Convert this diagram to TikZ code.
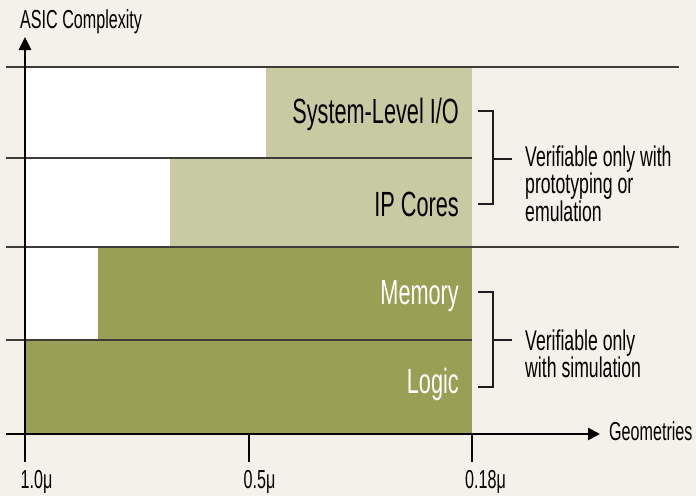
\documentclass[tikz,border=0pt]{standalone}
\usepackage{fontspec}
\newfontfamily\condfont[FakeStretch=0.62]{Liberation Sans}
\usetikzlibrary{arrows.meta}
\definecolor{paper}{HTML}{F4F0EA}
\definecolor{olivedark}{HTML}{999F54}
\definecolor{olivelight}{HTML}{C8CBA1}
\definecolor{gridgray}{HTML}{3E3C39}
\definecolor{inkdark}{HTML}{1E1E1E}
\tikzset{
  axisline/.style={line width=2.6pt, black},
  gridline/.style={line width=2pt, gridgray},
  bracketline/.style={line width=1.5pt, inkdark},
  barlabel/.style={anchor=base east, inner sep=0pt, font=\condfont\fontsize{35}{40}\selectfont},
  axislabel/.style={anchor=base west, inner sep=0pt, font=\condfont\fontsize{26}{30}\selectfont},
  note/.style={anchor=north west, inner sep=0pt, align=left, font=\condfont\fontsize{28.5}{26}\selectfont},
}
\begin{document}
\begin{tikzpicture}[x=1pt, y=-1pt]
  % canvas
  \fill[paper] (0,0) rectangle (696,496);
  \useasboundingbox (0,0) rectangle (696,496);

  % empty area and the four layers
  \fill[white] (25,67) rectangle (472,340);
  \fill[olivelight] (266,67) rectangle (472,158);
  \fill[olivelight] (170,158) rectangle (472,247);
  \fill[olivedark] (98,247) rectangle (472,340);
  \fill[olivedark] (25,340) rectangle (472,434);

  % separating lines
  \draw[gridline] (6,67) -- (679,67);
  \draw[gridline] (6,158) -- (472,158);
  \draw[gridline] (6,247) -- (679,247);
  \draw[gridline] (6,340) -- (472,340);

  % axes and ticks
  \coordinate (yfoot) at (25,462);
  \coordinate (ytop) at (25,37);
  \coordinate (xleft) at (6,434);
  \coordinate (xright) at (600,434);
  \draw[axisline, -{Triangle[length=13pt,width=12pt]}] (yfoot) -- (ytop);
  \draw[axisline, -{Triangle[length=12pt,width=12pt]}] (xleft) -- (xright);
  \coordinate (t2a) at (249,434); \coordinate (t2b) at (249,462);
  \coordinate (t3a) at (472,434); \coordinate (t3b) at (472,462);
  \draw[axisline] (t2a) -- (t2b);
  \draw[axisline] (t3a) -- (t3b);

  % axis labels
  \node[axislabel] (ylab) at (20,28) {ASIC Complexity};
  \node[axislabel] (xlab) at (609,440) {Geometries};
  \node[axislabel] (g1) at (20.5,488) {1.0μ};
  \node[axislabel] (g2) at (243.5,488) {0.5μ};
  \node[axislabel] (g3) at (465,488) {0.18μ};

  % layer labels
  \node[barlabel] (sysio) at (459,123) {System-Level I/O};
  \node[barlabel] (ipcores) at (459,216) {IP Cores};
  \node[barlabel, text=white] (memory) at (459,304) {Memory};
  \node[barlabel, text=white] (logic) at (459,393) {Logic};

  % bracket: prototyping / emulation
  \coordinate (b1top) at (478,111);
  \coordinate (b1bot) at (478,204);
  \coordinate (b1mid) at (493,159);
  \coordinate (b1tip) at (512,159);
  \draw[bracketline] (b1top) -| (b1mid) |- (b1bot);
  \draw[bracketline] (b1mid) -- (b1tip);
  \node[note] (note1) at (525,145.5) {Verifiable only with\\prototyping or\\emulation};

  % bracket: simulation
  \coordinate (b2top) at (478,292);
  \coordinate (b2bot) at (478,387);
  \coordinate (b2mid) at (493,340);
  \coordinate (b2tip) at (512,340);
  \draw[bracketline] (b2top) -| (b2mid) |- (b2bot);
  \draw[bracketline] (b2mid) -- (b2tip);
  \node[note] (note2) at (525,329.5) {Verifiable only\\with simulation};
\end{tikzpicture}
\end{document}
